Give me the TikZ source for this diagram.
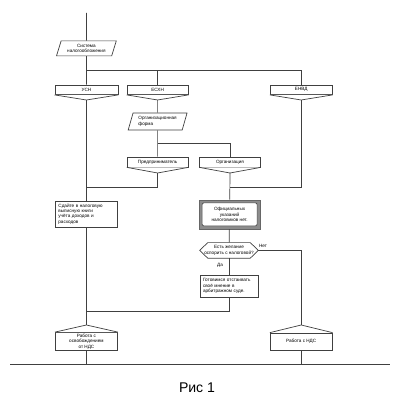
\documentclass[tikz,border=0pt]{standalone}
\usepackage{fontspec}
\setmainfont{Liberation Sans}
\usetikzlibrary{shapes.geometric}
\tikzset{
	line/.style={color=black!75, line width=0.5pt},
	blok/.style={draw=black!75, line width=0.5pt, fill=white, inner sep=1pt, font=\fontsize{3.3}{3.9}\selectfont},
	paral/.style={blok, trapezium, trapezium left angle=72, trapezium right angle=108, trapezium stretches=true},
	txt/.style={font=\fontsize{3.3}{3.9}\selectfont}
}
\begin{document}
\begin{tikzpicture}
	\useasboundingbox[fill=white] (0,0) rectangle (10,10);
	
	\node (sys) at (2.16,8.79)[paral, minimum width=1.5cm, minimum height=0.375cm, align=center]{Система\\налогообложения};
	
	\node (usn) at (2.16,7.756)[blok, minimum width=1.575cm, minimum height=0.24cm]{УСН};
	\node (eskn) at (3.94,7.756)[blok, minimum width=1.525cm, minimum height=0.24cm]{ЕСХН};
	\node (envd) at (7.53,7.756)[blok, minimum width=1.55cm, minimum height=0.24cm]{ЕНВД};
	\coordinate (usnT) at (2.16,7.5);
	\coordinate (esknT) at (3.94,7.5);
	\coordinate (envdT) at (7.53,7.5);
	\draw[line, fill=white] (usn.south west)--(usnT)--(usn.south east);
	\draw[line, fill=white] (eskn.south west)--(esknT)--(eskn.south east);
	\draw[line, fill=white] (envd.south west)--(envdT)--(envd.south east);
	
	\node (orgform) at (3.94,6.96)[paral, minimum width=1.475cm, minimum height=0.425cm, align=left]{Организационная\\форма};
	
	\node (predpr) at (3.94,5.95)[blok, minimum width=1.525cm, minimum height=0.25cm]{Предприниматель};
	\node (organiz) at (5.75,5.95)[blok, minimum width=1.525cm, minimum height=0.25cm]{Организация};
	\coordinate (predprT) at (3.94,5.675);
	\coordinate (organizT) at (5.75,5.675);
	\draw[line, fill=white] (predpr.south west)--(predprT)--(predpr.south east);
	\draw[line, fill=white] (organiz.south west)--(organizT)--(organiz.south east);
	
	\node (sdaite) at (2.16,4.65)[blok, minimum width=1.55cm, minimum height=0.65cm, text width=1.4cm, align=left]{Сдайте в налоговую\\выписную книги\\учёта доходов и\\расходов};
	
	\node (ofic) at (5.74,4.64)[draw=black!60, fill=black!45, line width=0.3pt, minimum width=1.525cm, minimum height=0.725cm]{};
	\node (oficV) at (5.74,4.64)[blok, rounded corners=1pt, minimum width=1.375cm, minimum height=0.575cm, align=center]{Официальных\\указаний\\налоговиков нет.};
	
	\node (hex) at (5.725,3.74)[txt, inner sep=0pt, minimum width=1.45cm, minimum height=0.375cm, align=center]{Есть желание\\оспорить с налоговой?};
	\draw[line] ([xshift=0.2cm]hex.north west)--(hex.west)--([xshift=0.2cm]hex.south west)--([xshift=-0.2cm]hex.south east)--(hex.east)--([xshift=-0.2cm]hex.north east)--cycle;
	
	\node (gotov) at (5.725,2.85)[blok, minimum width=1.45cm, minimum height=0.55cm, text width=1.3cm, align=left]{Готовимся отстаивать\\своё мнение в\\арбитражном суде.};
	
	\node (rab1) at (2.16,1.4625)[blok, minimum width=1.55cm, minimum height=0.425cm, align=center]{Работа с\\освобождением\\от НДС};
	\node (rab2) at (7.53,1.4625)[blok, minimum width=1.55cm, minimum height=0.425cm]{Работа с НДС};
	\coordinate (rab1T) at (2.16,1.875);
	\coordinate (rab2T) at (7.53,1.875);
	\draw[line, fill=white] (rab1.north west)--(rab1T)--(rab1.north east);
	\draw[line, fill=white] (rab2.north west)--(rab2T)--(rab2.north east);
	
	\coordinate (verh) at (2.16,9.675);
	\coordinate (uzel1) at (2.16,8.25);
	\coordinate (uzel2) at (3.94,6.425);
	\coordinate (uzel3) at (2.16,5.325);
	\coordinate (uzel4) at (5.75,5.325);
	\coordinate (uzel5) at (2.16,2.225);
	\coordinate (niz1) at (2.16,0.9);
	\coordinate (niz2) at (7.53,0.9);
	\coordinate (liniaL) at (0.25,0.9);
	\coordinate (liniaR) at (9.75,0.9);
	
	\draw[line](verh)--(sys);
	\draw[line](sys)--(usn);
	\draw[line](uzel1)-|(eskn);
	\draw[line](uzel1)-|(envd);
	\draw[line](usnT)--(sdaite);
	\draw[line](esknT)--(orgform);
	\draw[line](orgform)--(predpr);
	\draw[line](uzel2)-|(organiz);
	\draw[line](predprT)|-(uzel3);
	\draw[line](organizT)--(ofic);
	\draw[line](envdT)|-(uzel4);
	\draw[line](ofic)--(hex);
	\draw[line](hex)--(gotov);
	\draw[line](hex.east)-|(rab2T);
	\draw[line](gotov)|-(uzel5);
	\draw[line](sdaite)--(rab1T);
	\draw[line](rab1)--(niz1);
	\draw[line](rab2)--(niz2);
	\draw[line](liniaL)--(liniaR);
	
	\node (da) at (5.5,3.375)[txt]{Да};
	\node (net) at (6.575,3.85)[txt]{Нет};
	\node (ris) at (4.925,0.3)[font=\fontsize{10}{12}\selectfont]{Рис 1};
\end{tikzpicture}
\end{document}
